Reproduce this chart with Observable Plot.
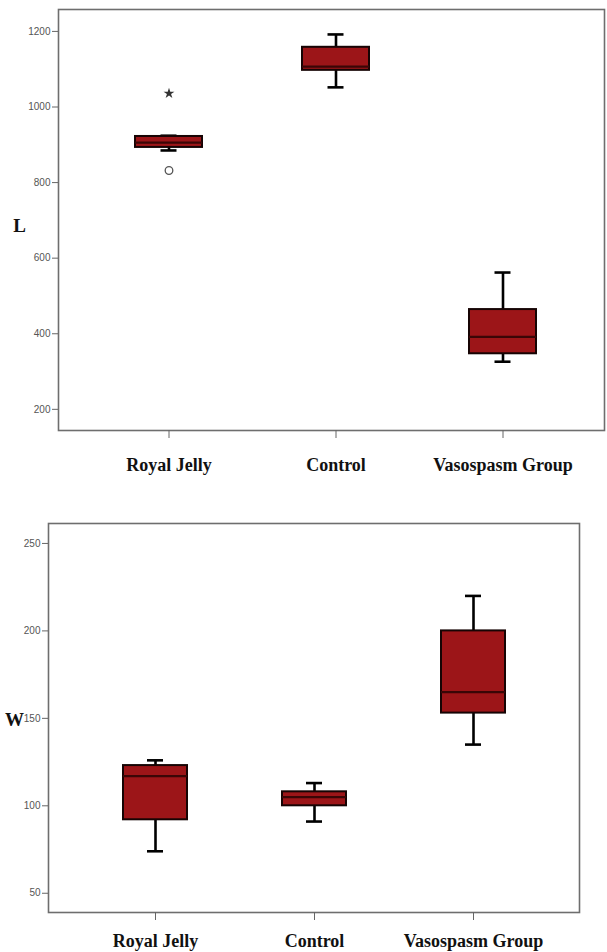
<!DOCTYPE html>
<html>
<head>
<meta charset="utf-8">
<script src="https://cdn.jsdelivr.net/npm/d3@7"></script>
<script src="https://cdn.jsdelivr.net/npm/@observablehq/plot@0.6"></script>
<style>
  html, body { margin: 0; padding: 0; background: #fff; }
  #top svg, #bottom svg { display: block; }
</style>
</head>
<body>
<div id="top"></div>
<div id="bottom"></div>
<script>
// Categories
const groups = ["Royal Jelly", "Control", "Vasospasm Group"];

// L (top chart) box-plot summaries
const L_min = [885, 1052, 326];
const L_q1  = [893, 1097, 347];
const L_med = [906, 1107, 392];
const L_q3  = [922, 1158, 464];
const L_max = [924, 1192, 562];
const L_outlierGroup = ["Royal Jelly"];
const L_outlierValue = [832];
const L_extremeGroup = ["Royal Jelly"];
const L_extremeValue = [1036];
const L_ticks = [200, 400, 600, 800, 1000, 1200];

// W (bottom chart) box-plot summaries
const W_min = [74, 91, 135];
const W_q1  = [92, 100, 153];
const W_med = [117, 105, 165];
const W_q3  = [123, 108, 200];
const W_max = [126, 113, 220];
const W_ticks = [50, 100, 150, 200, 250];

const rows = (mn, q1, md, q3, mx) =>
  groups.map((g, i) => ({g, min: mn[i], q1: q1[i], med: md[i], q3: q3[i], max: mx[i]}));

const FILL = "#9c1518";
const EDGE = "#160404";
const MED = "#3a0606";
const SERIF = "'Liberation Serif', 'Times New Roman', serif";
const SANS = "'Liberation Sans', Arial, sans-serif";

function boxChart(o) {
  const data = rows(...o.stats);
  const bw = o.boxWidth;
  const capInset = (bw - 16) / 2;
  const marks = [
    Plot.frame({stroke: "#6e6e6e", strokeWidth: 1.6}),
    Plot.axisY({ticks: o.ticks, tickFormat: d => String(d), tickSize: 6, tickPadding: 2, fontSize: 10, fontFamily: SANS,
                color: "#555", stroke: "#666", label: null}),
    Plot.axisX({tickSize: 8, tickPadding: o.xPad, fontSize: 18, fontFamily: SERIF, fontWeight: "bold",
                color: "#111", stroke: "#666", label: null}),
    Plot.ruleX(data, {x: "g", y1: "min", y2: "q1", stroke: "#000", strokeWidth: 2.6}),
    Plot.ruleX(data, {x: "g", y1: "q3", y2: "max", stroke: "#000", strokeWidth: 2.6}),
    Plot.tickY(data, {x: "g", y: "min", stroke: "#000", strokeWidth: 2.6, insetLeft: capInset, insetRight: capInset}),
    Plot.tickY(data, {x: "g", y: "max", stroke: "#000", strokeWidth: 2.6, insetLeft: capInset, insetRight: capInset}),
    Plot.barY(data, {x: "g", y1: "q1", y2: "q3", fill: FILL, stroke: EDGE, strokeWidth: 2}),
    Plot.tickY(data, {x: "g", y: "med", stroke: MED, strokeWidth: 2.2}),
    Plot.text([o.label], {frameAnchor: "left", textAnchor: "middle", dx: o.labelDx, dy: o.labelDy, fontSize: 19,
                          fontFamily: SERIF, fontWeight: "bold", fill: "#111"})
  ];
  if (o.outliers) {
    marks.push(Plot.dot(o.outliers.circ, {x: "g", y: "v", symbol: "circle", r: 3.8, stroke: "#555", strokeWidth: 1.3, fill: "white"}));
    marks.push(Plot.dot(o.outliers.star, {x: "g", y: "v", symbol: "star", r: 3.4, fill: "#333", stroke: "none"}));
  }
  return Plot.plot({
    width: 607,
    height: o.height,
    marginTop: o.mt, marginBottom: o.mb, marginLeft: o.ml, marginRight: o.mr,
    style: {background: "#fff", overflow: "visible"},
    x: {type: "band", domain: groups, range: o.xRange, paddingInner: 0.6, paddingOuter: 0, axis: null},
    y: {domain: o.yDomain, axis: null},
    marks
  });
}

const circ = L_outlierGroup.map((g, i) => ({g, v: L_outlierValue[i]}));
const star = L_extremeGroup.map((g, i) => ({g, v: L_extremeValue[i]}));

document.getElementById("top").append(boxChart({
  stats: [L_min, L_q1, L_med, L_q3, L_max],
  ticks: L_ticks,
  yDomain: [144, 1258],
  height: 500, mt: 9, mb: 70, ml: 58, mr: 3,
  xRange: [134.5, 535.5], boxWidth: 67, xPad: 20,
  label: "L", labelDx: -39, labelDy: 6,
  outliers: {circ, star}
}));

document.getElementById("bottom").append(boxChart({
  stats: [W_min, W_q1, W_med, W_q3, W_max],
  ticks: W_ticks,
  yDomain: [39, 261.4],
  height: 452, mt: 23, mb: 40, ml: 48, mr: 28,
  xRange: [122, 505.5], boxWidth: 64, xPad: 14,
  label: "W", labelDx: -34, labelDy: 2
}));
</script>
</body>
</html>
